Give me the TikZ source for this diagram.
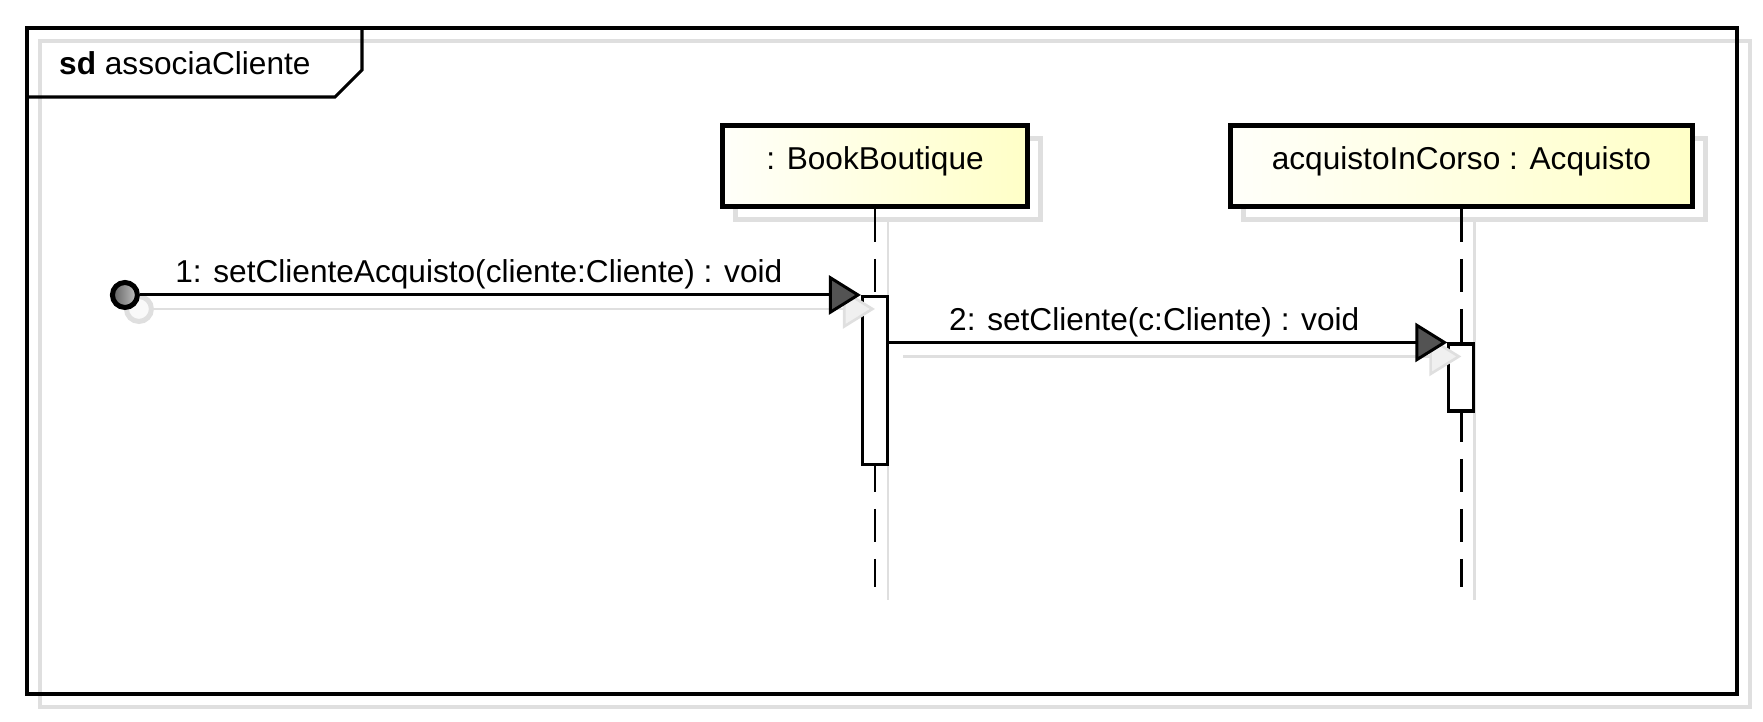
\documentclass[tikz,border=0pt]{standalone}
\usepackage{fontspec}
\setmainfont{Liberation Sans}
\usetikzlibrary{positioning}
\usetikzlibrary{calc}
\usetikzlibrary{arrows.meta}
\usetikzlibrary{shadows}
\newcommand{\umlsize}{\fontsize{18pt}{22pt}\selectfont}
\tikzset{obj/.style={draw, line width=2.85pt, minimum height=1.62cm, inner sep=0pt, font=\umlsize,
    text height=13pt, text depth=9.4pt,
    left color=yellow!2, right color=yellow!22,
    general shadow={shadow xshift=0.26cm, shadow yshift=-0.26cm, draw=gray!25, fill=white, line width=2.85pt}}}
\tikzset{act/.style={draw, fill=white, line width=1.8pt, minimum width=0.5cm, inner sep=0pt}}
\tikzset{life/.style={line width=1.5pt, dash pattern=on 0.66cm off 0.34cm}}
\tikzset{ghost/.style={draw=gray!25, line width=1.5pt}}
\tikzset{msg/.style={line width=1.7pt, -{Triangle[length=0.64cm, width=0.78cm, fill=gray!65!black]}}}
\tikzset{ghostmsg/.style={ghost, -{Triangle[length=0.64cm, width=0.78cm, fill=gray!12]}}}
\tikzset{found/.style={draw, circle, line width=2.85pt, minimum size=0.5cm, inner sep=0pt,
    left color=gray!75!black, right color=gray!45,
    general shadow={shadow xshift=0.28cm, shadow yshift=-0.28cm, draw=gray!25, fill=gray!5, line width=2.85pt}}}
\tikzset{lbl/.style={font=\umlsize, anchor=base, yshift=0.24cm}}

\begin{document}
\begin{tikzpicture}[x=0.02cm, y=-0.02cm]
\useasboundingbox (0,0) rectangle (1763,722);

\draw[gray!25, line width=1.8pt] (40,41) rectangle (1750,707);
\draw[line width=1.8pt] (27,28) rectangle (1737,694);
\draw[line width=1.8pt] (27,97) -- (335,97) -- (362,70) -- (362,28);
\node[anchor=base west, font=\umlsize] (sd) at (53,75) {\textbf{sd} associaCliente};

\begin{scope}[on grid]
\node[obj, minimum width=6.12cm] (bb) at (875,166) {: BookBoutique};
\node[obj, minimum width=9.24cm] (ac) [right = 11.73cm of bb] {acquistoInCorso : Acquisto};
\end{scope}

\coordinate (bbend) at ($(bb.south)+(0,378)$);
\coordinate (acend) at ($(ac.south)+(0,378)$);
\draw[ghost] ($(bb.south)+(13,13)$) -- ($(bbend)+(13,13)$);
\draw[ghost] ($(ac.south)+(13,13)$) -- ($(acend)+(13,13)$);
\draw[life] (bb.south) -- (bbend);
\draw[life] (ac.south) -- (acend);

\node[act, minimum height=3.36cm] (a1) [below = 1.72cm of bb.south] {};
\node[act, minimum height=1.34cm] (a2) [below = 2.67cm of ac.south] {};

\node[found] (start) at ($(a1.north west)+(-736,0)$) {};

\draw[ghostmsg] ($(start.east)+(14,14)$) -- ($(a1.north west)+(14,14)$);
\draw[ghostmsg] ($(a1.east |- a2.north)+(14,14)$) -- ($(a2.north west)+(14,14)$);

\draw[msg] (start) -- (a1.north west)
  node[lbl, pos=0.47] (m1) {1: setClienteAcquisto(cliente:Cliente) : void};
\draw[msg] (a1.east |- a2.north) -- (a2.north west)
  node[lbl, pos=0.475] (m2) {2: setCliente(c:Cliente) : void};
\end{tikzpicture}
\end{document}
